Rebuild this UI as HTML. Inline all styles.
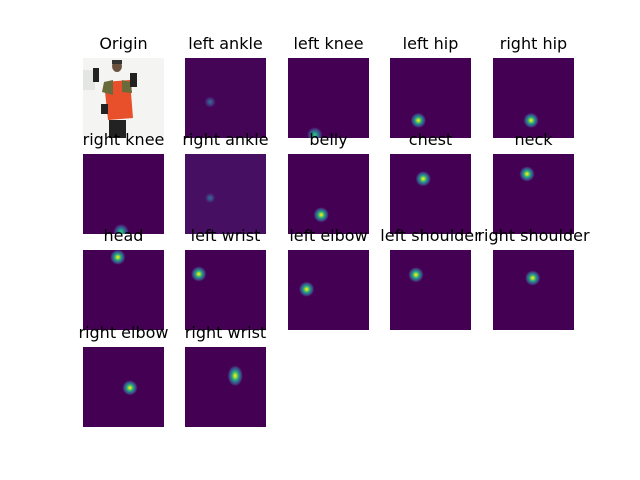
<!DOCTYPE html>
<html><head><meta charset="utf-8"><style>
html,body{margin:0;padding:0;background:#fff;}
svg{display:block;font-family:"DejaVu Sans","Liberation Sans",sans-serif;}
</style></head><body>
<svg id="fig" width="640" height="480" xmlns="http://www.w3.org/2000/svg">
<rect width="640" height="480" fill="#fff"/>
<g id="origin">
<rect x="83" y="58" width="81" height="80" fill="#f4f5f2"/>
<rect x="83" y="70" width="12" height="20" fill="#d8dcd8" opacity="0.6"/>
<ellipse cx="117" cy="66" rx="5" ry="6" fill="#6b5240"/>
<rect x="112" y="60" width="10" height="4" fill="#333"/>
<path d="M104 82 L130 80 L133 118 L108 120 Z" fill="#e8502c"/>
<path d="M104 82 L113 80 L113 95 L102 92 Z" fill="#6b6a3a"/>
<path d="M122 80 L131 82 L132 93 L122 92 Z" fill="#6b6a3a"/>
<rect x="109" y="120" width="17" height="18" fill="#222"/>
<rect x="93" y="68" width="6" height="14" fill="#222"/>
<rect x="130" y="73" width="7" height="14" fill="#222"/>
<rect x="101" y="104" width="7" height="10" fill="#222"/>
<text x="123.5" y="49" text-anchor="middle" font-size="16" fill="#000">Origin</text>
</g>
<defs id="defs"></defs>
<g id="panels"></g>
</svg>
<script>
const names=["left ankle","left knee","left hip","right hip","right knee","right ankle","belly","chest","neck","head","left wrist","left elbow","left shoulder","right shoulder","right elbow","right wrist"];
const peakX=[0.31,0.33,0.35,0.47,0.47,0.31,0.41,0.41,0.42,0.43,0.17,0.23,0.32,0.49,0.58,0.62];
const peakY=[0.55,0.96,0.78,0.78,0.97,0.55,0.76,0.31,0.25,0.09,0.30,0.49,0.31,0.35,0.51,0.36];
const peakAmp=[0.35,0.7,1,1,0.7,0.35,1,1,1,1,1,1,1,1,1,1];
const bgLevel=[0.01,0,0,0,0,0.04,0,0,0,0,0,0,0,0,0,0];
const V=[[0,"#440154"],[0.1,"#482475"],[0.2,"#414487"],[0.3,"#355f8d"],[0.4,"#2a788e"],[0.5,"#21918c"],[0.6,"#22a884"],[0.7,"#44bf70"],[0.8,"#7ad151"],[0.9,"#bddf26"],[1,"#fde725"]];
function hex(h){return [1,3,5].map(i=>parseInt(h.substr(i,2),16));}
function vir(t){t=Math.max(0,Math.min(1,t));const i=Math.min(9,Math.floor(t*10));const f=(t-V[i][0])*10;const a=hex(V[i][1]),b=hex(V[i+1][1]);return "rgb("+a.map((v,k)=>Math.round(v+(b[k]-v)*f)).join(",")+")";}
const colX=[83,185,288,390,493],rowY=[58,154,250,347],W=81,H=80;
const NS="http://www.w3.org/2000/svg";
const defs=document.getElementById("defs"),G=document.getElementById("panels");
names.forEach((n,i)=>{
  const slot=i+1,c=slot%5,r=Math.floor(slot/5);
  const x0=colX[c],y0=rowY[r];
  const g=document.createElementNS(NS,"g");
  
  
  const cp=document.createElementNS(NS,"clipPath");cp.setAttribute("id","cp"+i);
  const cr=document.createElementNS(NS,"rect");cr.setAttribute("x",x0);cr.setAttribute("y",y0);cr.setAttribute("width",W);cr.setAttribute("height",H);cp.appendChild(cr);defs.appendChild(cp);
  const bg=document.createElementNS(NS,"rect");
  
  
  bg.setAttribute("x",x0);bg.setAttribute("y",y0);bg.setAttribute("width",W);bg.setAttribute("height",H);bg.setAttribute("fill",vir(bgLevel[i]));g.appendChild(bg);
  const gr=document.createElementNS(NS,"radialGradient");gr.setAttribute("id","gr"+i);
  const a=peakAmp[i];
  [[0,a],[0.15,a*0.9],[0.35,a*0.65],[0.55,a*0.4],[0.8,a*0.15],[1,bgLevel[i]]].forEach(s=>{const st=document.createElementNS(NS,"stop");st.setAttribute("offset",s[0]);st.setAttribute("stop-color",vir(s[1]));st.setAttribute("stop-opacity",s[0]==1?0:1);gr.appendChild(st);});
  defs.appendChild(gr);
  const pk=document.createElementNS(NS,"ellipse");
  
  
  pk.setAttribute("cx",x0+peakX[i]*W);pk.setAttribute("cy",y0+peakY[i]*H);
  pk.setAttribute("rx",a<0.5?6:8);pk.setAttribute("ry",n=="right wrist"?11:(a<0.5?6:8));
  pk.setAttribute("fill","url(#gr"+i+")");pk.setAttribute("clip-path","url(#cp"+i+")");g.appendChild(pk);
  const t=document.createElementNS(NS,"text");
  
  
  t.setAttribute("x",x0+W/2);t.setAttribute("y",y0-9);t.setAttribute("text-anchor","middle");t.setAttribute("font-size","16");t.textContent=n;g.appendChild(t);
  G.appendChild(g);
});
</script>
</body></html>
